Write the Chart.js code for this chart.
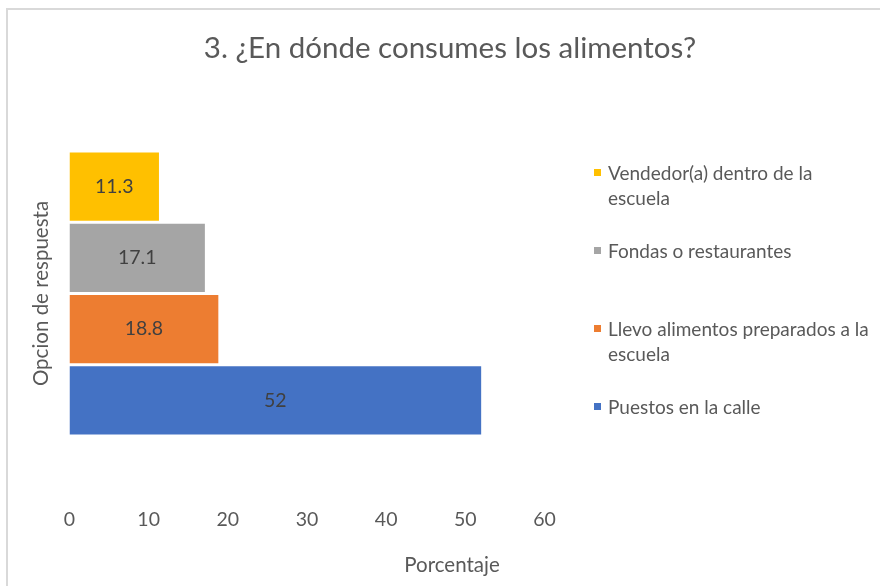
<!DOCTYPE html>
<html>
<head>
<meta charset="utf-8">
<script src="https://cdn.jsdelivr.net/npm/chart.js@4"></script>
<style>
  body { margin: 0; background: #fff; font-family: Lato, sans-serif; color: #595959; }
  #wrap { position: relative; width: 880px; height: 586px; overflow: hidden; }
  #marco { position: absolute; left: 6px; top: 8px; width: 900px; height: 620px; border: 2px solid #d9d9d9; box-sizing: border-box; }
  #grafica { position: absolute; left: 0; top: 0; }
  #titulo { position: absolute; left: 0; width: 900px; top: 29px; text-align: center; font-size: 29.5px; }
  #ejeX { position: absolute; left: 352px; width: 200px; top: 552px; text-align: center; font-size: 20.5px; }
  #leyenda { position: absolute; left: 594px; top: 160px; width: 280px; font-size: 19px; }
  .item { position: relative; height: 78px; line-height: 25px; padding-left: 14px; }
  .item span.caja { position: absolute; left: 0; top: 9px; width: 7px; height: 7px; }
</style>
</head>
<body>
<div id="wrap">
  <div id="marco"></div>
  <canvas id="grafica" width="880" height="586"></canvas>
  <div id="titulo">3. ¿En dónde consumes los alimentos?</div>
  <div id="ejeX">Porcentaje</div>
  <div id="leyenda"></div>
</div>
<script>
// Opciones de respuesta, de arriba hacia abajo
const opciones = [
  'Vendedor(a) dentro de la escuela',
  'Fondas o restaurantes',
  'Llevo alimentos preparados a la escuela',
  'Puestos en la calle'
];
const porcentajes = [11.3, 17.1, 18.8, 52];
const colores = ['#FFC000', '#A5A5A5', '#ED7D31', '#4472C4'];
const escalaX = { min: 0, max: 60, paso: 10 };

// leyenda a la derecha (el texto se parte en dos renglones)
const leyenda = document.getElementById('leyenda');
opciones.forEach((op, i) => {
  const div = document.createElement('div');
  div.className = 'item';
  div.innerHTML = `<span class="caja" style="background:${colores[i]}"></span>${op}`;
  leyenda.appendChild(div);
});

// etiqueta con el valor en medio de cada barra
const etiquetasValor = {
  id: 'etiquetasValor',
  afterDatasetsDraw(chart) {
    const ctx = chart.ctx;
    ctx.save();
    ctx.font = '19.5px Lato';
    ctx.fillStyle = '#404040';
    ctx.textAlign = 'center';
    ctx.textBaseline = 'middle';
    chart.data.datasets.forEach((ds, i) => {
      chart.getDatasetMeta(i).data.forEach((bar, j) => {
        ctx.fillText(String(ds.data[j]), (bar.x + bar.base) / 2, bar.y);
      });
    });
    ctx.restore();
  }
};

const ctx = document.getElementById('grafica').getContext('2d');
new Chart(ctx, {
  type: 'bar',
  data: {
    labels: [''],
    datasets: opciones.map((op, i) => ({
      label: op,
      data: [porcentajes[i]],
      backgroundColor: colores[i],
      borderWidth: 0,
      categoryPercentage: 0.667,
      barPercentage: 0.96
    }))
  },
  options: {
    indexAxis: 'y',
    responsive: false,
    animation: false,
    layout: { padding: { left: 0, top: 80, right: 335.5, bottom: 39 } },
    plugins: {
      legend: { display: false },
      tooltip: { enabled: false }
    },
    scales: {
      x: {
        min: escalaX.min,
        max: escalaX.max,
        grid: { display: false, drawTicks: false },
        border: { display: false },
        ticks: { stepSize: escalaX.paso, padding: 1, color: '#595959', font: { family: 'Lato', size: 19.5 } },
        afterFit(s) { s.height = 40; }
      },
      y: {
        grid: { display: false, drawTicks: false },
        border: { display: false },
        ticks: { display: false },
        title: {
          display: true,
          text: 'Opcion de respuesta',
          color: '#595959',
          font: { family: 'Lato', size: 20.5 },
          padding: { top: 29, bottom: 0 }
        },
        afterFit(s) { s.width = 69.5; }
      }
    }
  },
  plugins: [etiquetasValor]
});
</script>
</body>
</html>
